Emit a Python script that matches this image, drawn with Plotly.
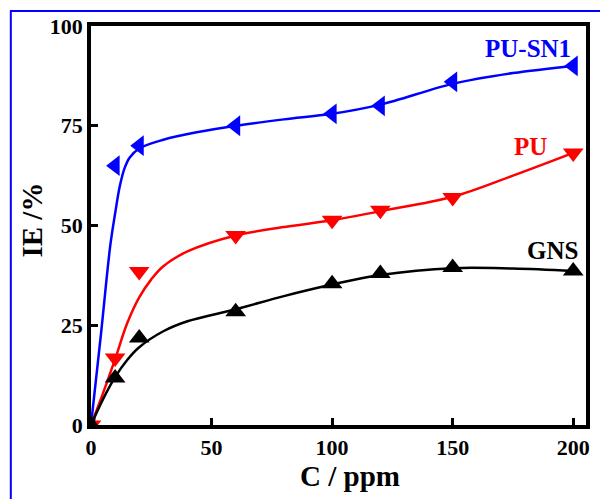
import plotly.graph_objects as go

# Measured points
conc = [0, 10, 20, 60, 100, 120, 150, 200]
ie_pusn1 = [0, 65, 70, 75, 78, 80, 86, 90]
ie_pu = [0, 16.8, 38.5, 47.5, 51.3, 53.8, 57.0, 68.2]
ie_gns = [0, 11.8, 21.8, 28.4, 35.4, 38.0, 39.5, 38.6]

# Fitted curves
fit_x_pusn1 = [0, 4, 8, 10, 12, 14, 16, 20, 30, 45, 60, 80, 100, 120, 150, 175, 200]
fit_y_pusn1 = [0, 22, 45, 53, 60, 64.5, 67, 69.3, 71.5, 73.5, 75, 76.6, 78, 80.3, 85.5, 88.2, 90]
fit_x_pu = [0, 5, 10, 15, 20, 25, 30, 40, 60, 80, 100, 120, 150, 175, 200]
fit_y_pu = [0, 8, 16.5, 25.5, 32, 36.5, 39.8, 43.5, 47.5, 49.6, 51.3, 53.6, 57.2, 62.5, 68.2]
fit_x_gns = [0, 5, 10, 15, 20, 30, 40, 60, 80, 100, 120, 150, 175, 200]
fit_y_gns = [0, 6.5, 12, 16.3, 19.5, 23.5, 26, 29, 32.3, 35.2, 37.6, 39.3, 39.2, 38.6]

series = [
    ("PU-SN1", conc, ie_pusn1, fit_x_pusn1, fit_y_pusn1, "#0000ff", "triangle-left"),
    ("PU", conc, ie_pu, fit_x_pu, fit_y_pu, "#ff0000", "triangle-down"),
    ("GNS", conc, ie_gns, fit_x_gns, fit_y_gns, "#000000", "triangle-up"),
]

font = "Liberation Serif"

fig = go.Figure()
for name, xs, ys, fx, fy, col, sym in series:
    fig.add_trace(go.Scatter(x=fx, y=fy, mode="lines", line=dict(color=col, width=2.5, shape="spline", smoothing=1.0),
                             showlegend=False, hoverinfo="skip"))
    fig.add_trace(go.Scatter(x=xs, y=ys, mode="markers", name=name,
                             marker=dict(color=col, symbol=sym, size=18), showlegend=False))

labels = [("PU-SN1", 200, 90.6, "#0000ff"), ("PU", 190, 66.0, "#ff0000"), ("GNS", 203, 39.8, "#000000")]
for txt, xx, yy, col in labels:
    fig.add_annotation(x=xx, y=yy, xref="x", yref="y", text=txt, showarrow=False,
                       xanchor="right", yanchor="bottom", font=dict(family=font, size=25, color=col, weight="bold"))

# axis titles
fig.add_annotation(x=0.523, y=-0.128, xref="paper", yref="paper", text="C / ppm", showarrow=False,
                   xanchor="center", yanchor="middle", font=dict(family=font, size=29, color="black", weight="bold"))
fig.add_annotation(x=-0.12, y=0.514, xref="paper", yref="paper", text="IE /%", showarrow=False, textangle=-90,
                   xanchor="center", yanchor="middle", font=dict(family=font, size=29, color="black", weight="bold"))

fig.add_shape(type="rect", xref="paper", yref="paper", x0=-0.162, y0=-0.4, x1=1.2, y1=1.0376,
              line=dict(color="#0000ff", width=2), fillcolor="rgba(0,0,0,0)", layer="below")

axis_common = dict(ticks="inside", ticklen=7, tickwidth=2.5, tickcolor="black", showline=True,
                   linecolor="black", linewidth=3.5, mirror=True, showgrid=False, zeroline=False,
                   tickfont=dict(family=font, size=22, color="black", weight="bold"))

fig.update_layout(
    width=600, height=499,
    margin=dict(l=91, r=10, t=26, b=74),
    paper_bgcolor="white", plot_bgcolor="white",
    font=dict(family=font, color="black"),
    xaxis=dict(range=[0, 205.3], tickvals=[0, 50, 100, 150, 200], **axis_common),
    yaxis=dict(range=[0, 100], tickvals=[0, 25, 50, 75, 100], **axis_common),
)

fig.write_html("out.html")
